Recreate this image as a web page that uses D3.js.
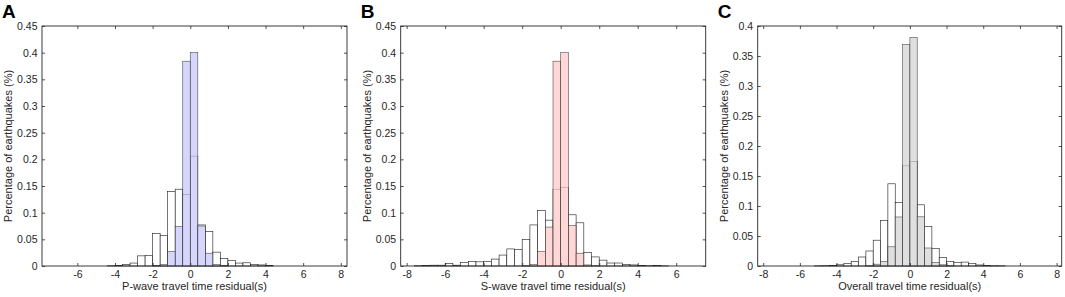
<!DOCTYPE html>
<html>
<head>
<meta charset="utf-8">
<script src="https://cdnjs.cloudflare.com/ajax/libs/d3/7.8.5/d3.min.js"></script>
<style>
  body { margin: 0; background: #fff; }
  svg { display: block; font-family: Arial, "Liberation Sans", Helvetica, sans-serif; }
</style>
</head>
<body>
<svg id="svg1" width="1065" height="297"></svg>
<script>
// lower edge of every 0.4 s bin
var binLo = [-8.0,-7.6,-7.2,-6.8,-6.4,-6.0,-5.6,-5.2,-4.8,-4.4,
             -4.0,-3.6,-3.2,-2.8,-2.4,-2.0,-1.6,-1.2,-0.8,-0.4,
              0.0, 0.4, 0.8, 1.2, 1.6, 2.0, 2.4, 2.8, 3.2, 3.6,
              4.0, 4.4, 4.8, 5.2, 5.6, 6.0, 6.4, 6.8, 7.2, 7.6]
var binW = 0.4

// A - P wave
var pBefore = [0,0,0,0,0,0,0,0,0,0.0005,
               0.0013,0.0025,0.0055,0.019,0.02,0.061,0.0575,0.14,0.144,0.134,
               0.206,0.077,0.065,0.026,0.014,0.01,0.0055,0.006,0.003,0.002,
               0.001,0,0,0,0,0,0,0,0,0]
var pAfter  = [0,0,0,0,0,0,0,0,0,0,
               0,0,0,0,0,0.001,0.003,0.0275,0.074,0.384,
               0.40,0.075,0.024,0.003,0.001,0,0,0,0,0,
               0,0,0,0,0,0,0,0,0,0]

// B - S wave
var sBefore = [0,0.0005,0.001,0.0015,0.0015,0.0045,0.0015,0.0065,0.0085,0.0078,
               0.0085,0.013,0.0205,0.032,0.031,0.05,0.077,0.104,0.086,0.144,
               0.147,0.096,0.081,0.025,0.017,0.011,0.0056,0.0056,0.003,0.002,
               0.001,0.0005,0.001,0.0003,0,0,0,0,0,0]
var sAfter  = [0,0,0,0,0,0,0,0,0,0,
               0,0,0,0,0,0.0005,0.003,0.0275,0.073,0.384,
               0.40,0.076,0.024,0.002,0.0005,0,0,0,0,0,
               0,0,0,0,0,0,0,0,0,0]

// C - overall
var oBefore = [0,0,0,0,0,0,0,0.0003,0.0005,0.001,
               0.002,0.0044,0.0075,0.015,0.025,0.043,0.0756,0.137,0.1056,0.167,
               0.174,0.102,0.0656,0.0294,0.0144,0.0078,0.006,0.0065,0.004,0.0017,
               0.001,0.0005,0.0003,0,0,0,0,0,0,0]
var oAfter  = [0,0,0,0,0,0,0,0,0,0,
               0,0,0,0,0.0005,0.003,0.0078,0.032,0.0817,0.369,
               0.381,0.082,0.03,0.006,0.002,0.0005,0,0,0,0,
               0,0,0,0,0,0,0,0,0,0]

var yTicks45 = [0,0.05,0.1,0.15,0.2,0.25,0.3,0.35,0.4,0.45]
var yTicks40 = [0,0.05,0.1,0.15,0.2,0.25,0.3,0.35,0.4]
var xTicksA = [-6,-4,-2,0,2,4,6,8]
var xTicksB = [-8,-6,-4,-2,0,2,4,6]
var xTicksC = [-8,-6,-4,-2,0,2,4,6,8]

var panels = [
  {letter:"A", x0:42,    x1:347,    xdom:[-7.88,8.33], ymax:0.45, yt:yTicks45, xt:xTicksA,
   before:pBefore, after:pAfter, color:"#c6c6fb", xlabel:"P-wave travel time residual(s)"},
  {letter:"B", x0:400.7, x1:705.7,  xdom:[-8.31,7.53], ymax:0.45, yt:yTicks45, xt:xTicksB,
   before:sBefore, after:sAfter, color:"#ffc8c8", xlabel:"S-wave travel time residual(s)"},
  {letter:"C", x0:757.7, x1:1061.7, xdom:[-8.3,8.28],  ymax:0.4,  yt:yTicks40, xt:xTicksC,
   before:oBefore, after:oAfter, color:"#d3d3d3", xlabel:"Overall travel time residual(s)"}
]

var plotTop = 26, plotBot = 266
var ink = "#262626"
var svg = d3.select("#svg1")

panels.forEach(function(p){
  var x = d3.scaleLinear().domain(p.xdom).range([p.x0, p.x1])
  var y = d3.scaleLinear().domain([0, p.ymax]).range([plotBot, plotTop])
  var g = svg.append("g").attr("class", "panel-" + p.letter)

  // white histogram first
  g.selectAll(".bw")
    .data(binLo.map(function(b,i){ return {lo:b, v:p.before[i]} }).filter(d=>d.v>0))
    .enter().append("rect")
      .attr("x", d=>x(d.lo))
      .attr("y", d=>y(d.v))
      .attr("width", d=>x(d.lo+binW)-x(d.lo))
      .attr("height", d=>plotBot-y(d.v))
      .style("fill", "white")
      .style("stroke", "#1a1a1a")
      .style("stroke-width", 0.6)

  // coloured on top, mostly opaque so the white outlines show faintly
  g.selectAll(".bc")
    .data(binLo.map(function(b,i){ return {lo:b, v:p.after[i]} }).filter(d=>d.v>0))
    .enter().append("rect")
      .attr("x", d=>x(d.lo))
      .attr("y", d=>y(d.v))
      .attr("width", d=>x(d.lo+binW)-x(d.lo))
      .attr("height", d=>plotBot-y(d.v))
      .style("fill", p.color)
      .style("fill-opacity", 0.72)
      .style("stroke", "#333")
      .style("stroke-opacity", 0.85)
      .style("stroke-width", 0.6)

  // axes, ticks pointing inwards on all four sides
  var fmt = d=>String(d)
  var ax = [
    {a:d3.axisBottom(x).tickValues(p.xt).tickFormat(fmt).tickPadding(5), t:`translate(0,${plotBot})`},
    {a:d3.axisTop(x).tickValues(p.xt).tickFormat(""), t:`translate(0,${plotTop})`},
    {a:d3.axisLeft(y).tickValues(p.yt).tickFormat(fmt).tickPadding(4.5), t:`translate(${p.x0},0)`},
    {a:d3.axisRight(y).tickValues(p.yt).tickFormat(""), t:`translate(${p.x1},0)`}
  ]
  ax.forEach(function(o){
    var ag = g.append("g")
      .attr("transform", o.t)
      .call(o.a.tickSize(-3).tickSizeOuter(0))
    ag.select(".domain").remove()
    ag.selectAll("line").style("stroke", ink).style("stroke-width", 0.8)
    ag.selectAll("text").style("fill", ink).style("font-size", "10.5px").attr("font-family", null)
  })

  g.append("rect")
    .attr("x", p.x0).attr("y", plotTop)
    .attr("width", p.x1-p.x0).attr("height", plotBot-plotTop)
    .style("fill", "none")
    .style("stroke", ink)
    .style("stroke-width", 0.9)

  g.append("text")
    .attr("x", (p.x0+p.x1)/2)
    .attr("y", 290)
    .style("text-anchor", "middle")
    .style("font-size", "11px")
    .style("fill", ink)
    .text(p.xlabel)

  g.append("text")
    .attr("transform", `translate(${p.x0-30},${(plotTop+plotBot)/2}) rotate(-90)`)
    .style("text-anchor", "middle")
    .style("font-size", "11px")
    .style("fill", ink)
    .text("Percentage of earthquakes (%)")

  g.append("text")
    .attr("x", p.x0-40)
    .attr("y", 18)
    .style("font-size", "19px")
    .style("font-weight", "bold")
    .style("fill", "#000")
    .text(p.letter)
})
</script>
</body>
</html>
